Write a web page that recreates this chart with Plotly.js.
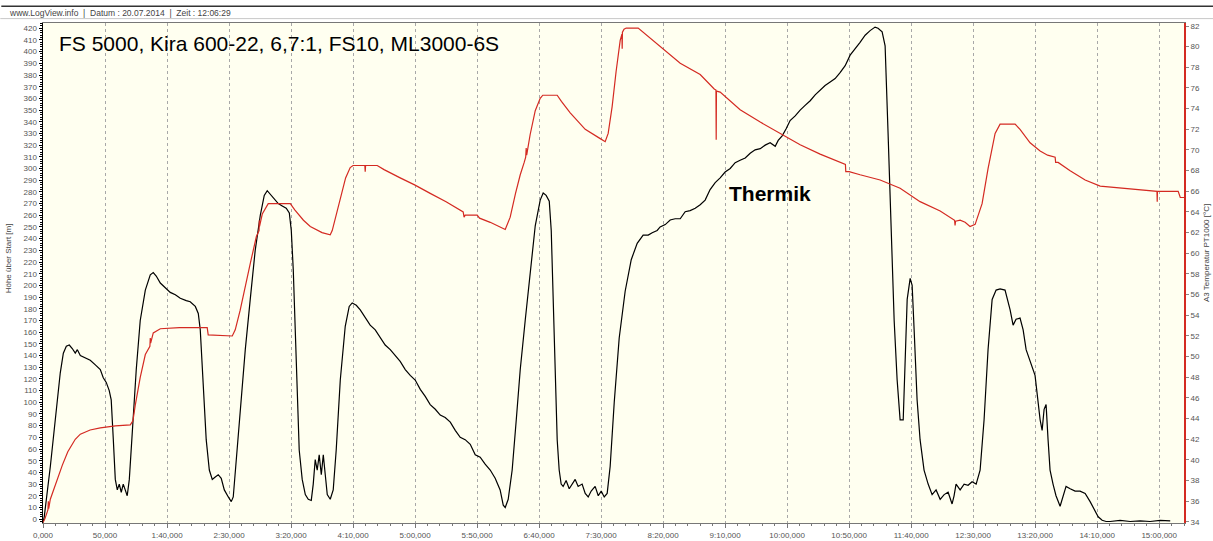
<!DOCTYPE html>
<html>
<head>
<meta charset="utf-8">
<script src="https://cdn.plot.ly/plotly-3.0.1.min.js"></script>
<style>html,body{margin:0;padding:0;background:#fff;}#chart{width:1213px;height:541px;}</style>
</head>
<body>
<div id="chart"></div>
<script>
// ---- Data (time in seconds) ----
const altTime = [0,1.0,5.9,9.9,13.9,16.4,18.8,21.2,23.6,26.0,27.7,30.1,34.1,38.1,42.2,46.2,48.6,51.0,53.4,55.0,56.7,58.3,59.9,61.5,63.1,64.7,66.3,67.9,69.6,72.0,75.2,78.4,82.5,86.5,88.9,91.3,94.6,98.6,102.6,106.7,110.7,115.5,118.7,122.8,125.2,126.8,129.2,131.6,134.1,136.5,138.9,141.3,143.7,146.2,149.4,151.8,153.4,155.8,159.0,163.1,167.1,171.1,175.2,178.4,180.8,183.3,186.5,189.7,192.9,196.1,198.6,200.2,201.8,203.4,205.0,206.6,209.0,211.5,213.9,216.3,217.9,219.5,221.1,222.7,224.4,226.0,227.6,229.2,231.6,234.0,236.4,239.7,243.7,246.9,249.3,252.6,255.8,259.8,263.8,267.9,271.9,275.9,280.0,284.0,288.0,292.1,296.1,300.1,304.2,308.2,312.2,316.3,320.3,324.3,328.4,332.4,336.4,340.4,344.5,348.5,352.5,356.5,360.6,364.6,368.6,371.1,372.7,375.1,378.3,381.6,384.8,388.8,392.8,396.9,400.9,403.3,405.7,408.2,409.8,411.4,413.0,414.6,416.2,417.8,419.4,421.8,424.3,426.7,429.1,431.5,434.7,437.2,439.6,442.0,445.2,447.7,450.1,452.5,454.9,457.3,460.6,464.6,469.4,474.3,479.1,483.9,488.0,491.2,495.2,497.6,501.7,505.7,509.7,513.8,517.8,521.8,525.9,529.9,533.9,537.9,542.0,546.0,550.0,554.1,558.1,562.1,566.2,570.2,574.2,578.3,582.3,586.3,590.4,592.8,596.0,599.2,602.4,606.5,610.5,614.5,618.6,622.6,626.6,630.6,634.7,638.7,642.7,646.8,650.8,654.8,658.8,662.9,666.9,670.9,673.3,676.6,679.0,681.4,683.9,686.3,688.7,691.1,693.6,695.2,696.8,699.2,700.8,702.4,704.8,707.2,710.4,713.7,716.9,720.1,723.4,726.6,729.8,733.0,734.6,736.2,739.5,742.7,745.9,749.1,752.4,755.6,758.8,762.0,765.3,768.5,771.7,775.7,779.8,782.2,784.6,787.8,790.3,792.7,795.9,799.9,804.0,805.6,807.2,808.8,810.4,812.0,814.4,816.8,820.1,822.5,824.9,828.2,832.2,836.2,840.3,844.3,847.5,850.8,854.0,857.2,860.4,868.5,876.6,884.6,892.7,900.8,908.9,920.0];
const altitude = [-3,2,45,85,125,142,148,149,146,142,145,140,138,136,132,128,121,117,110,102,68,34,25,30,23,30,25,20,34,76,128,170,196,209,211,208,202,198,194,192,189,187,186,182,176,162,111,68,42,34,36,38,35,25,19,15,19,51,94,145,188,230,260,277,281,278,274,270,268,266,262,247,213,162,102,59,34,21,17,16,30,51,42,55,38,55,38,21,17,25,59,119,165,182,185,183,179,172,166,162,155,149,145,140,135,128,123,119,111,105,98,94,89,87,83,76,70,68,64,55,53,47,42,35,25,12,10,17,42,85,128,170,213,251,273,279,277,272,247,188,119,68,42,30,28,33,26,30,34,28,30,22,19,24,28,20,24,19,22,45,100,155,195,222,236,243,243,245,247,250,252,256,257,257,263,264,266,269,273,282,288,292,297,300,305,307,309,313,316,317,320,322,319,324,328,334,341,345,350,354,358,363,367,371,374,377,382,388,397,403,408,414,418,421,420,417,405,330,250,170,119,85,85,140,188,206,200,162,102,68,42,30,21,25,17,21,23,13,20,30,25,30,29,32,30,42,85,145,188,196,197,196,179,166,171,172,162,145,136,123,85,76,94,98,68,42,30,20,11,20,28,26,24,24,22,15,8,2,-1,-2,-2,-1,-2,-1.5,-2,-1,-1.5];

const tempTime = [0,1.5,3.5,4.0,4.3,4.6,5.9,9.9,15.6,20,26,30.1,38,46.2,58.3,70.4,72.5,74.4,78.4,82.5,86.2,86.5,86.8,88.9,94.6,110,132.4,133.2,152.6,155,159,167.1,172,174.2,174.4,174.6,176.8,181.6,199.4,203,210,215.5,225,231.6,233.2,236,239.7,244,247.7,250,259.5,259.8,260.1,269.5,275,288,300,312.2,325,338.8,339.5,340.4,350.1,352,360.6,372.7,376.7,381,384.8,388,389.2,389.6,390,392.8,396.9,400.9,403,414.6,418,425.1,437.2,449.3,453.3,455.7,458.9,462.1,465.4,466.8,467.0,467.2,468.5,470.2,479.9,484,492,500,513.8,529.9,540,541.2,542.6,542.8,543.0,546,562.1,578.3,594.4,610.5,626.6,646.8,647.0,647.3,650,658.8,675,691.1,707.2,723.4,731.4,735,735.4,735.8,739.5,743.5,747.5,751.6,757.2,762,767.7,771.7,783.8,787.8,795.9,804,810,816.1,816.5,818.5,828.2,840.3,852.4,876.6,896.7,898.2,898.4,898.6,915.3,917,920];
const temperature = [33.95,34.3,35.0,35.2,36.0,35.3,36.2,37.6,39.5,40.8,42.0,42.5,42.9,43.1,43.3,43.4,43.8,45.3,48.0,50.2,51.0,51.8,51.3,52.3,52.7,52.8,52.8,52.1,52.0,52.6,54.5,59.0,61.6,62.2,63.2,62.6,63.8,64.8,64.8,64.2,63.2,62.6,62.0,61.8,62.2,63.5,65.5,67.3,68.3,68.5,68.5,67.9,68.5,68.5,68.1,67.3,66.6,65.8,65.0,64.0,63.5,63.7,63.7,63.4,63.0,62.3,63.5,65.8,67.6,68.8,69.3,70.2,69.5,71.5,73.8,75.0,75.3,75.3,74.7,73.6,72.0,71.1,70.8,71.6,74.2,77.6,80.6,81.2,79.8,81.4,81.7,81.8,81.8,81.4,80.6,79.8,78.4,77.3,76.0,75.9,75.8,71.0,75.7,75.6,73.9,72.7,71.6,70.5,69.6,68.6,68.6,67.9,67.9,67.6,67.1,66.3,65.0,64.1,63.5,63.2,62.7,63.1,63.2,63.0,62.6,62.8,64.8,68.2,71.6,72.5,72.5,72.0,70.7,69.9,69.5,69.3,68.8,68.8,68.0,67.1,66.5,66.2,66.0,66.0,65.0,66.0,66.0,65.4,65.4];

const xTickVals = [0,50,100,150,200,250,300,350,400,450,500,550,600,650,700,750,800,850,900];
const xTickText = ["0,000","50,000","1:40,000","2:30,000","3:20,000","4:10,000","5:00,000","5:50,000","6:40,000","7:30,000","8:20,000","9:10,000","10:00,000","10:50,000","11:40,000","12:30,000","13:20,000","14:10,000","15:00,000"];

const chartTitle = "FS 5000, Kira 600-22, 6,7:1, FS10, ML3000-6S";
const noteText = "Thermik";
const headerText = "www.LogView.info\u00a0\u00a0|\u00a0\u00a0Datum : 20.07.2014\u00a0\u00a0|\u00a0\u00a0Zeit : 12:06:29";
const yTitle = "Höhe über Start [m]";
const y2Title = "A3 Temperatur PT1000 [°C]";

// ---- Layout geometry helpers (pixel -> paper) ----
const W = 1213, H = 541;
const PL = 42.7, PR = 1184, PT = 22.7, PB = 523.3;
const xp = px => (px - PL) / (PR - PL);
const yp = py => (PB - py) / (PB - PT);

const FONT = "Liberation Sans, Arial, sans-serif";

const traces = [
  {x: altTime, y: altitude, type: 'scatter', mode: 'lines', yaxis: 'y',
   line: {color: '#000000', width: 1.2}, hoverinfo: 'skip', name: 'Höhe'},
  {x: tempTime, y: temperature, type: 'scatter', mode: 'lines', yaxis: 'y2',
   line: {color: '#d42a22', width: 1.2}, hoverinfo: 'skip', name: 'Temperatur'}
];

const layout = {
  width: W, height: H,
  margin: {l: PL, r: W - PR, t: PT, b: H - PB, pad: 0},
  paper_bgcolor: '#ffffff',
  plot_bgcolor: '#fffff0',
  showlegend: false,
  font: {family: FONT, size: 8, color: '#555'},
  xaxis: {
    range: [0, 920], tickmode: 'array', tickvals: xTickVals, ticktext: xTickText,
    showgrid: true, gridcolor: '#a8a8a8', gridwidth: 1, griddash: '3px,3px',
    zeroline: false, showline: true, linecolor: '#777', linewidth: 1, mirror: true,
    ticks: 'outside', ticklen: 4, tickcolor: '#777',
    minor: {dtick: 10, tick0: 0, ticks: 'outside', ticklen: 2, tickcolor: '#777', showgrid: false},
    tickfont: {size: 8, color: '#555', family: FONT}
  },
  yaxis: {
    range: [-3.3, 424.5], tickmode: 'linear', tick0: 0, dtick: 10,
    showgrid: false, zeroline: false, showline: true, linecolor: '#000', linewidth: 1.5,
    ticks: 'outside', ticklen: 3, tickcolor: '#000',
    minor: {dtick: 2, tick0: 0, ticks: 'outside', ticklen: 2, tickcolor: '#000', showgrid: false},
    tickfont: {size: 8, color: '#555', family: FONT}
  },
  yaxis2: {
    range: [33.9, 82.29], overlaying: 'y', side: 'right', tickmode: 'linear', tick0: 34, dtick: 2,
    showgrid: false, zeroline: false, showline: true, linecolor: '#d42a22', linewidth: 2,
    ticks: 'outside', ticklen: 3, tickcolor: '#888',
    tickfont: {size: 8, color: '#555', family: FONT}
  },
  shapes: [
    {type: 'line', xref: 'paper', yref: 'paper', x0: xp(1), x1: xp(1213), y0: yp(6), y1: yp(6),
     line: {color: '#333', width: 1.5}},
    {type: 'line', xref: 'paper', yref: 'paper', x0: xp(0), x1: xp(1213), y0: yp(18.3), y1: yp(18.3),
     line: {color: '#c8c8c8', width: 1}}
  ],
  annotations: [
    {text: headerText, xref: 'paper', yref: 'paper', x: xp(7), y: yp(12.5),
     xanchor: 'left', yanchor: 'middle', showarrow: false,
     font: {family: FONT, size: 8.5, color: '#444'}},
    {text: chartTitle, xref: 'paper', yref: 'paper', x: xp(57), y: yp(43),
     xanchor: 'left', yanchor: 'middle', showarrow: false,
     font: {family: FONT, size: 21, color: '#000'}},
    {text: '<b>' + noteText + '</b>', xref: 'paper', yref: 'paper', x: xp(727), y: yp(193),
     xanchor: 'left', yanchor: 'middle', showarrow: false,
     font: {family: FONT, size: 21, color: '#000'}},
    {text: yTitle, xref: 'paper', yref: 'paper', x: xp(8), y: yp(258), textangle: -90,
     xanchor: 'center', yanchor: 'middle', showarrow: false,
     font: {family: FONT, size: 8, color: '#444'}},
    {text: y2Title, xref: 'paper', yref: 'paper', x: xp(1206), y: yp(253), textangle: -90,
     xanchor: 'center', yanchor: 'middle', showarrow: false,
     font: {family: FONT, size: 8, color: '#444'}}
  ]
};

Plotly.newPlot('chart', traces, layout, {staticPlot: true, displayModeBar: false});
</script>
</body>
</html>
